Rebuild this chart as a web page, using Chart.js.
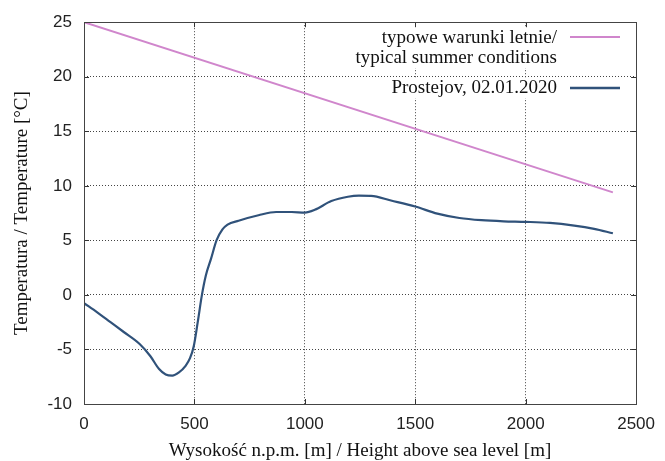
<!DOCTYPE html>
<html>
<head>
<meta charset="utf-8">
<script src="https://cdn.jsdelivr.net/npm/chart.js@4.4.0/dist/chart.umd.min.js"></script>
<style>
  html, body { margin: 0; padding: 0; background: #fff; }
  canvas { display: block; }
</style>
</head>
<body>
<canvas id="wykres" width="665" height="461"></canvas>
<script>
// dane
var summerHeights = [0, 2395];
var summerTemps = [25, 9.4];

var heights = [0, 60, 120, 180, 252, 300, 340, 370, 400, 430, 460, 480, 497, 515, 534, 552, 575, 600, 627, 650,
    700, 790, 870, 940, 1000, 1045, 1120, 1195, 1245, 1300, 1390, 1500, 1600, 1700, 1800, 1900, 2000, 2110, 2220, 2310, 2395];
var temps = [-0.75, -1.6, -2.5, -3.4, -4.5, -5.6, -6.8, -7.3, -7.4, -7.1, -6.5, -5.8, -4.7, -2.5, 0, 1.8, 3.3, 5.0, 6.0, 6.45,
    6.8, 7.3, 7.6, 7.6, 7.55, 7.8, 8.6, 9.0, 9.1, 9.08, 8.65, 8.1, 7.45, 7.05, 6.85, 6.75, 6.7, 6.6, 6.35, 6.05, 5.65];

var labels = ['typowe warunki letnie/\ntypical summer conditions', 'Prostejov, 02.01.2020'];
var colors = ['rgb(208, 134, 204)', 'rgb(48, 82, 122)'];

function toPoints(xs, ys) {
    return xs.map(function (x, i) { return { x: x, y: ys[i] }; });
}

// ramka, znaczniki i legenda jak w gnuplocie
var gnuplotStyle = {
    id: 'gnuplotStyle',
    afterDraw: function (chart) {
        var ctx = chart.ctx;
        var a = chart.chartArea;
        var xs = chart.scales.x, ys = chart.scales.y;
        ctx.save();
        ctx.strokeStyle = '#333';
        ctx.lineWidth = 1;
        ctx.beginPath();
        xs.ticks.forEach(function (t) {
            var px = Math.round(xs.getPixelForValue(t.value)) + 0.5;
            ctx.moveTo(px, a.top); ctx.lineTo(px, a.top + 5);
            ctx.moveTo(px, a.bottom); ctx.lineTo(px, a.bottom - 5);
        });
        ys.ticks.forEach(function (t) {
            var py = Math.round(ys.getPixelForValue(t.value)) + 0.5;
            ctx.moveTo(a.left, py); ctx.lineTo(a.left + 5, py);
            ctx.moveTo(a.right, py); ctx.lineTo(a.right - 5, py);
        });
        ctx.stroke();
        ctx.strokeStyle = '#444';
        ctx.strokeRect(Math.round(a.left) + 0.5, Math.round(a.top) + 0.5,
            Math.round(a.right - a.left), Math.round(a.bottom - a.top));

        // legenda
        ctx.font = '19px "Liberation Serif", "Times New Roman", serif';
        ctx.textAlign = 'right';
        ctx.textBaseline = 'middle';
        var textRight = 557;
        var lineY = [[38, 58], [88]];
        var sampleY = [37, 88];
        labels.forEach(function (lab, i) {
            lab.split('\n').forEach(function (s, j) {
                var w = ctx.measureText(s).width;
                var y = lineY[i][j];
                ctx.fillStyle = '#fff';
                ctx.fillRect(textRight - w - 2, y - 10, w + 4, 20);
                ctx.fillStyle = '#111';
                ctx.fillText(s, textRight, y);
            });
            ctx.strokeStyle = colors[i];
            ctx.lineWidth = i === 0 ? 2 : 2.5;
            ctx.beginPath();
            ctx.moveTo(570, sampleY[i]);
            ctx.lineTo(620, sampleY[i]);
            ctx.stroke();
        });
        ctx.restore();
    }
};

var ctx = document.getElementById('wykres').getContext('2d');
var chart = new Chart(ctx, {
    type: 'scatter',
    data: {
        datasets: [{
            label: labels[0],
            data: toPoints(summerHeights, summerTemps),
            showLine: true,
            borderColor: colors[0],
            borderWidth: 2,
            pointRadius: 0
        }, {
            label: labels[1],
            data: toPoints(heights, temps),
            showLine: true,
            borderColor: colors[1],
            borderWidth: 2.2,
            pointRadius: 0,
            cubicInterpolationMode: 'monotone'
        }]
    },
    options: {
        responsive: false,
        devicePixelRatio: 1,
        animation: false,
        layout: { padding: { top: 17, right: 27, left: 0, bottom: 0 } },
        plugins: {
            legend: { display: false },
            tooltip: { enabled: false }
        },
        scales: {
            x: {
                type: 'linear',
                min: 0,
                max: 2500,
                ticks: {
                    stepSize: 500,
                    padding: 10,
                    maxRotation: 0,
                    color: '#222',
                    font: { family: '"Liberation Sans", Arial, sans-serif', size: 17 },
                    callback: function (v) { return String(v); }
                },
                grid: { color: '#444', drawTicks: false },
                border: { display: false, dash: [1, 2] },
                title: {
                    display: true,
                    text: 'Wysokość n.p.m. [m] / Height above sea level [m]',
                    color: '#111',
                    padding: { top: 0, bottom: 0 },
                    font: { family: '"Liberation Serif", "Times New Roman", serif', size: 19, lineHeight: 1 }
                },
                afterFit: function (scale) { scale.height = 57; }
            },
            y: {
                min: -10,
                max: 25,
                ticks: {
                    stepSize: 5,
                    padding: 12,
                    color: '#222',
                    font: { family: '"Liberation Sans", Arial, sans-serif', size: 17 }
                },
                grid: { color: '#444', drawTicks: false },
                border: { display: false, dash: [1, 2] },
                title: {
                    display: true,
                    text: 'Temperatura / Temperature [°C]',
                    color: '#111',
                    padding: { top: 13, bottom: 0 },
                    font: { family: '"Liberation Serif", "Times New Roman", serif', size: 19, lineHeight: 1 }
                },
                afterFit: function (scale) { scale.width = 84; }
            }
        }
    },
    plugins: [gnuplotStyle]
});
</script>
</body>
</html>
